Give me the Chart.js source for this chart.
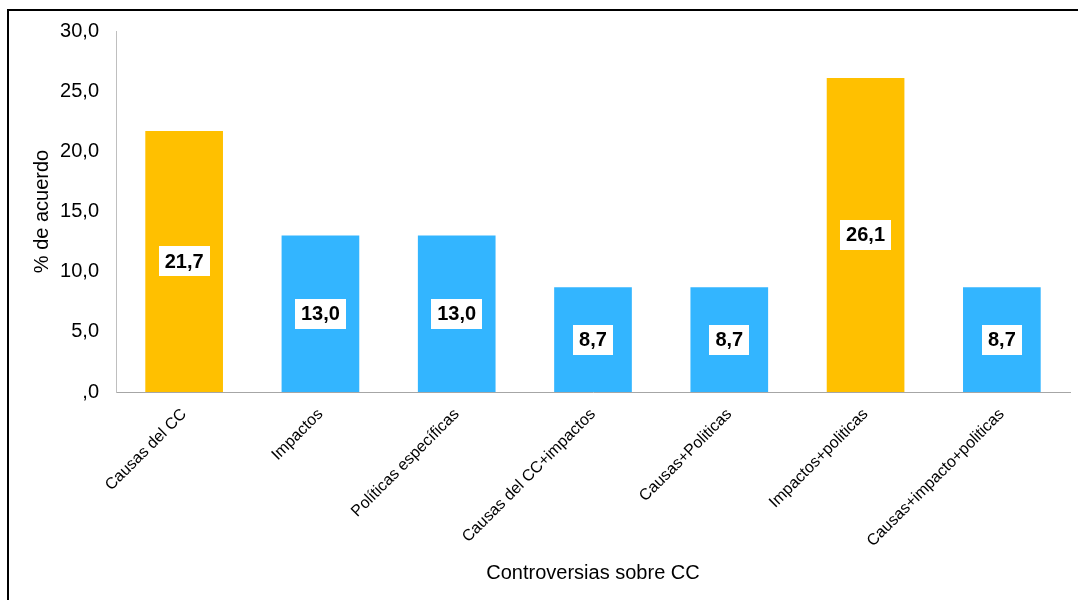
<!DOCTYPE html>
<html>
<head>
<meta charset="utf-8">
<script src="https://cdn.jsdelivr.net/npm/chart.js@4"></script>
<style>
  html, body { margin: 0; padding: 0; background: #fff; }
  #wrap { position: relative; width: 1078px; height: 600px; overflow: hidden; }
  #frame { position: absolute; left: 7px; top: 9px; width: 1200px; height: 700px;
           border-left: 2px solid #000; border-top: 2px solid #000; box-sizing: border-box; }
  canvas { position: absolute; left: 0; top: 0; }
</style>
</head>
<body>
<div id="wrap">
  <div id="frame"></div>
  <canvas id="c" width="1078" height="600"></canvas>
</div>
<script>
const categories = ["Causas del CC", "Impactos", "Políticas específicas", "Causas del CC+impactos", "Causas+Politicas", "Impactos+politicas", "Causas+impacto+politicas"];
const values = [21.7, 13.0, 13.0, 8.7, 8.7, 26.1, 8.7];
const barColors = ["#FFC000", "#33B5FF", "#33B5FF", "#33B5FF", "#33B5FF", "#FFC000", "#33B5FF"];
const yTicks = [0, 5, 10, 15, 20, 25, 30];
const yTitle = "% de acuerdo";
const xTitle = "Controversias sobre CC";

const FONT = "'Liberation Sans', Arial, sans-serif";

function fmt(v) {
  const s = v.toFixed(1).replace('.', ',');
  return s.startsWith('0,') ? s.slice(1) : s;
}

const labelPlugin = {
  id: 'boxLabels',
  afterDatasetsDraw(chart) {
    const ctx = chart.ctx;
    const meta = chart.getDatasetMeta(0);
    ctx.save();
    ctx.font = "bold 20px " + FONT;
    ctx.textAlign = 'center';
    ctx.textBaseline = 'middle';
    meta.data.forEach((bar, i) => {
      const txt = fmt(values[i]);
      const cx = bar.x;
      const cy = (bar.y + bar.base) / 2;
      const w = ctx.measureText(txt).width + 12;
      const h = 30;
      ctx.fillStyle = '#fff';
      ctx.fillRect(Math.round(cx - w / 2), Math.round(cy - h / 2), Math.round(w), h);
      ctx.fillStyle = '#000';
      ctx.fillText(txt, cx, cy + 1);
    });
    ctx.restore();
  }
};

new Chart(document.getElementById('c'), {
  type: 'bar',
  data: {
    labels: categories,
    datasets: [{
      data: values,
      backgroundColor: barColors,
      borderWidth: 0,
      categoryPercentage: 1,
      barPercentage: 0.57
    }]
  },
  options: {
    responsive: false,
    animation: false,
    devicePixelRatio: 1,
    layout: { padding: { left: 0, top: 31, right: 8, bottom: 0 } },
    plugins: { legend: { display: false }, tooltip: { enabled: false } },
    scales: {
      x: {
        grid: { display: false, drawTicks: false },
        border: { display: true, color: '#A6A6A6', width: 1 },
        ticks: { color: '#000', font: { family: FONT, size: 16 }, maxRotation: 45, minRotation: 45, padding: 13, autoSkip: false },
        title: { display: true, text: xTitle, color: '#000', font: { family: FONT, size: 20 }, padding: { top: 0, bottom: 15 } },
        afterFit(scale) { scale.height = 208; }
      },
      y: {
        min: 0, max: 30,
        afterBuildTicks(scale) { scale.ticks = yTicks.map(v => ({ value: v })); },
        grid: { display: false, drawTicks: false },
        border: { display: true, color: '#BFBFBF', width: 1 },
        ticks: { color: '#000', font: { family: FONT, size: 20 }, padding: 17, callback: v => fmt(v) },
        title: { display: true, text: yTitle, color: '#000', font: { family: FONT, size: 20 }, padding: { top: 30, bottom: 0 } },
        afterFit(scale) { scale.width = 116; }
      }
    }
  },
  plugins: [labelPlugin]
});
</script>
</body>
</html>
